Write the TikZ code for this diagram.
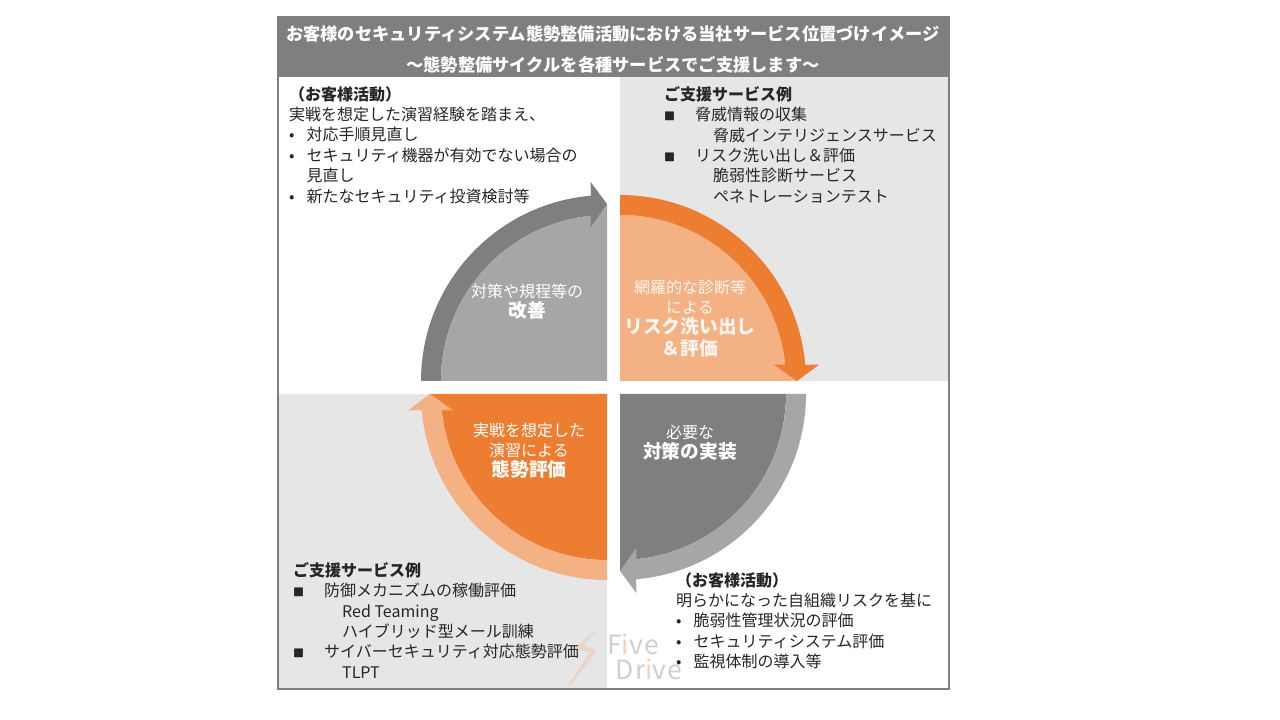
\documentclass[tikz,border=0pt]{standalone}
\usepackage{fontspec}
\setmainfont{Noto Sans CJK JP}
\definecolor{ink}{HTML}{262626}
\definecolor{dgray}{HTML}{7F7F7F}
\definecolor{mgray}{HTML}{A6A6A6}
\definecolor{lgray}{HTML}{E7E6E6}
\definecolor{dorange}{HTML}{ED7D31}
\definecolor{lorange}{HTML}{F4B183}
\definecolor{mark}{HTML}{CFCFCF}
\newcommand{\bul}{\makebox[17.5pt][l]{•}}
\newcommand{\sq}{\makebox[31pt][l]{\fontsize{11}{11}\selectfont ■}}
\newcommand{\bigt}[1]{{\fontsize{18.7}{20}\selectfont\bfseries #1}}
\begin{document}
\begin{tikzpicture}[x=1pt,y=1pt]
\tikzset{
	pics/sector/.style args={#1/#2}{code={
	\fill[#1] (0,0) -- (-166,0) arc[start angle=180,end angle=95.6,radius=166pt] -- (0,177) -- cycle;
	\fill[#2] (-186,0) arc[start angle=180,end angle=95,radius=186pt]
	-- (-16.3,199) -- (0,177) -- (-16.3,154) -- (-16.3,165.2)
	arc[start angle=95.6,end angle=180,radius=166pt] -- cycle;
	},
	}
}
\tikzset{
	block/.style={anchor=north west,inner sep=0,align=left,text=ink,font=\fontsize{16}{20.4}\selectfont},
	pietext/.style={inner sep=0,align=center,text=white,font=\fontsize{16}{20}\selectfont},
	wmark/.style={inner sep=0,anchor=base west,text=mark,font=\fontsize{26.5}{26.5}\selectfont\addfontfeature{LetterSpace=6}},
}
\useasboundingbox (0,0) rectangle (1280,720);
\fill[white] (0,0) rectangle (1280,720);
%QUARTERS
\fill[lgray] (620,339) rectangle (949,643);
\fill[lgray] (278,31) rectangle (607,326);
\draw (607,339) pic[rotate=0] {sector={mgray/dgray}};
\draw (620,339) pic[rotate=-90] {sector={lorange/dorange}};
\draw (620,326) pic[rotate=-180] {sector={dgray/mgray}};
\draw (607,326) pic[rotate=-270] {sector={dorange/lorange}};
%HEADER
\fill[dgray] (278,643) rectangle (949,703);
\node[inner sep=0,align=center,text=white,font=\fontsize{17.25}{31}\selectfont\bfseries] (head) at (613,670.5)
	{お客様のセキュリティシステム態勢整備活動における当社サービス位置づけイメージ\\～態勢整備サイクルを各種サービスでご支援します～};
\draw[dgray,line width=2.4pt] (278,31) rectangle (949,703);
%PIE TEXTS
\node[pietext] (improve) at (527,418.5) {対策や規程等の\\\bigt{改善}};
\node[pietext,text=white!88!lorange] (risk) at (690,401.5) {網羅的な診断等\\による\\\bigt{リスク洗い出し}\\[2.5pt]\bigt{＆評価}};
\node[pietext] (impl) at (690,277.5) {必要な\\\bigt{対策の実装}};
\node[pietext] (eval) at (529,269.5) {実戦を想定した\\演習による\\\bigt{態勢評価}};
%LOGO
\fill[lorange,opacity=0.3] (598,92) -- (576,73) -- (578,70) -- (590,68) -- (566,32) -- (572,36) -- (597,70) -- (584,74) -- cycle;
%TEXT BLOCKS
\node[block] (tl) at (289,634) {\textbf{（お客様活動）}\\実戦を想定した演習経験を踏まえ、\\\bul 対応手順見直し\\\bul セキュリティ機器が有効でない場合の\\\hspace*{17.5pt}見直し\\\bul 新たなセキュリティ投資検討等};
\node[block] (tr) at (664,634) {\textbf{ご支援サービス例}\\\sq 脅威情報の収集\\\hspace*{49pt}脅威インテリジェンスサービス\\\sq リスク洗い出し＆評価\\\hspace*{49pt}脆弱性診断サービス\\\hspace*{49pt}ペネトレーションテスト};
\node[block] (bl) at (293,158) {\textbf{ご支援サービス例}\\\sq 防御メカニズムの稼働評価\\\hspace*{49pt}Red Teaming\\\hspace*{49pt}ハイブリッド型メール訓練\\\sq サイバーセキュリティ対応態勢評価\\\hspace*{49pt}TLPT};
\node[block] (br) at (676,148) {\textbf{（お客様活動）}\\明らかになった自組織リスクを基に\\\bul 脆弱性管理状況の評価\\\bul セキュリティシステム評価\\\bul 監視体制の導入等};
\node[wmark] (five) at (607,65) {F\textcolor{lorange!60}{i}ve};
\node[wmark] (drive) at (615,40) {Dr\textcolor{lorange!60}{i}ve};
\end{tikzpicture}
\end{document}
